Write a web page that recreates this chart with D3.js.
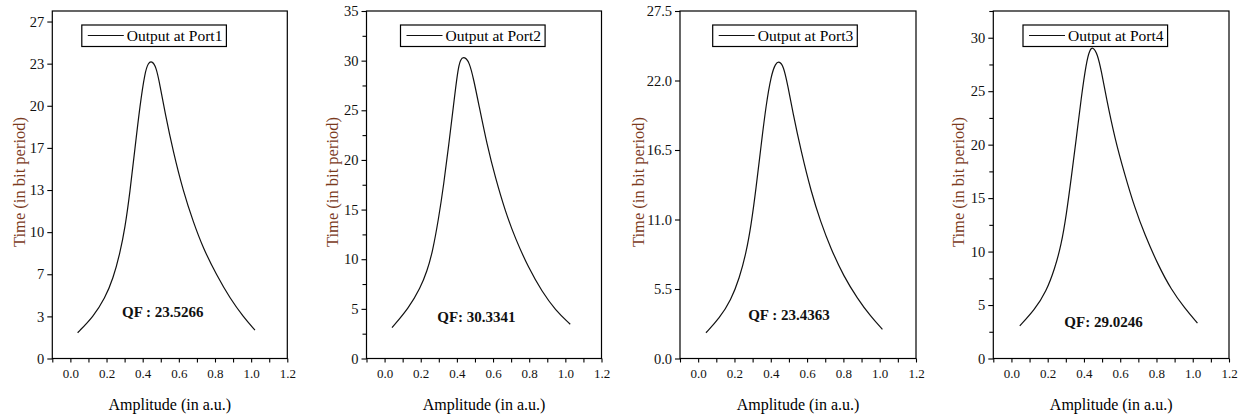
<!DOCTYPE html>
<html>
<head>
<meta charset="utf-8">
<script src="https://cdn.jsdelivr.net/npm/d3@7/dist/d3.min.js"></script>
<style>
  html, body { margin: 0; padding: 0; background: #fff; }
  svg { display: block; }
  text { font-family: "Liberation Serif", "Times New Roman", serif; }
</style>
</head>
<body>
<svg id="chart" width="1242" height="416"></svg>
<script>
// ---------------- DATA ----------------
const portNames = ["Output at Port1", "Output at Port2", "Output at Port3", "Output at Port4"];
const qfLabels = ["QF : 23.5266", "QF: 30.3341", "QF : 23.4363", "QF: 29.0246"];

const amp1  = [0.040, 0.127, 0.191, 0.237, 0.274, 0.302, 0.330, 0.357, 0.385, 0.413, 0.431, 0.450, 0.474, 0.496, 0.523, 0.569, 0.625, 0.680, 0.735, 0.809, 0.883, 0.956, 1.021];
const time1 = [2.04, 3.31, 4.76, 6.34, 8.32, 10.3, 13.2, 16.6, 20.05, 22.7, 23.4, 23.55, 23.12, 21.6, 19.5, 16.35, 13.2, 10.8, 8.71, 6.6, 4.76, 3.31, 2.25];

const amp2  = [0.041, 0.133, 0.198, 0.235, 0.265, 0.299, 0.327, 0.355, 0.382, 0.404, 0.419, 0.443, 0.469, 0.493, 0.521, 0.567, 0.613, 0.668, 0.723, 0.797, 0.871, 0.944, 1.027];
const time2 = [3.11, 5.06, 7.1, 8.8, 10.7, 14.1, 17.5, 21.5, 25.6, 28.9, 30.2, 30.4, 29.85, 28.1, 25.6, 21.5, 18.2, 14.8, 12.1, 9.1, 6.74, 4.89, 3.45];

const amp3  = [0.043, 0.117, 0.181, 0.227, 0.264, 0.292, 0.319, 0.347, 0.374, 0.402, 0.426, 0.448, 0.470, 0.494, 0.521, 0.567, 0.622, 0.675, 0.730, 0.803, 0.877, 0.951, 1.015];
const time3 = [2.04, 3.18, 4.63, 6.35, 8.33, 10.56, 13.47, 16.9, 20.06, 22.4, 23.38, 23.52, 23.15, 21.6, 19.5, 16.4, 13.2, 10.8, 8.72, 6.47, 4.76, 3.31, 2.31];

const amp4  = [0.046, 0.128, 0.192, 0.239, 0.275, 0.303, 0.330, 0.358, 0.385, 0.413, 0.432, 0.450, 0.474, 0.496, 0.523, 0.570, 0.625, 0.680, 0.735, 0.808, 0.882, 0.956, 1.026];
const time4 = [3.05, 4.55, 6.26, 8.4, 10.64, 13.45, 16.9, 20.6, 24.4, 27.7, 28.9, 29.15, 28.5, 26.9, 24.4, 20.6, 17.2, 14.1, 11.6, 8.77, 6.42, 4.7, 3.3];

const xTickValues = [0.0, 0.2, 0.4, 0.6, 0.8, 1.0, 1.2];
const xTickLabels = ["0.0", "0.2", "0.4", "0.6", "0.8", "1.0", "1.2"];
const xMinorValues = [-0.1, 0.1, 0.3, 0.5, 0.7, 0.9, 1.1];

const yMax = [27.5, 35, 27.5, 32.5];
const yTicks1 = [0, 3.333, 6.667, 10, 13.333, 16.667, 20, 23.333, 26.667];
const yLabels1 = ["0", "3", "7", "10", "13", "17", "20", "23", "27"];
const yTicks2 = [0, 5, 10, 15, 20, 25, 30, 35];
const yLabels2 = ["0", "5", "10", "15", "20", "25", "30", "35"];
const yMinor2 = [2.5, 7.5, 12.5, 17.5, 22.5, 27.5, 32.5];
const yTicks3 = [0, 5.5, 11, 16.5, 22, 27.5];
const yLabels3 = ["0.0", "5.5", "11.0", "16.5", "22.0", "27.5"];
const yTicks4 = [0, 5, 10, 15, 20, 25, 30];
const yLabels4 = ["0", "5", "10", "15", "20", "25", "30"];
const yMinor4 = [2.5, 7.5, 12.5, 17.5, 22.5, 27.5, 32.5];

const xTitle = "Amplitude (in a.u.)";
const yTitle = "Time (in bit period)";

// ---------------- LAYOUT ----------------
const panels = [
  { amp: amp1, time: time1, ymax: yMax[0], yt: yTicks1, yl: yLabels1, ym: [], left: 52.3, right: 287.3, legDx: 29.5, qfX: 0.511, qfY: 3.7, ytOff: 27 },
  { amp: amp2, time: time2, ymax: yMax[1], yt: yTicks2, yl: yLabels2, ym: yMinor2, left: 366.5, right: 601.5, legDx: 34, qfX: 0.508, qfY: 4.2, ytOff: 28.5 },
  { amp: amp3, time: time3, ymax: yMax[2], yt: yTicks3, yl: yLabels3, ym: [], left: 680, right: 916, legDx: 32.7, qfX: 0.5, qfY: 3.45, ytOff: 36 },
  { amp: amp4, time: time4, ymax: yMax[3], yt: yTicks4, yl: yLabels4, ym: yMinor4, left: 993.3, right: 1229, legDx: 29.7, qfX: 0.508, qfY: 3.4, ytOff: 29 }
];
const plotTop = 11, plotBottom = 358.5;

const svg = d3.select("#chart");

panels.forEach((p, i) => {
  const x = d3.scaleLinear().domain([-0.1, 1.2]).range([p.left, p.right]);
  const y = d3.scaleLinear().domain([0, p.ymax]).range([plotBottom, plotTop]);
  const g = svg.append("g");

  // frame
  g.append("rect")
    .attr("x", p.left).attr("y", plotTop)
    .attr("width", p.right - p.left).attr("height", plotBottom - plotTop)
    .attr("fill", "none").attr("stroke", "#000").attr("stroke-width", 1.2);

  // x axis
  const xg = g.append("g").attr("transform", `translate(0,${plotBottom})`)
    .call(d3.axisBottom(x).tickValues(xTickValues).tickFormat((d, k) => xTickLabels[k]).tickSize(4).tickPadding(6));
  g.append("g").attr("transform", `translate(0,${plotBottom})`)
    .call(d3.axisBottom(x).tickValues(xMinorValues).tickFormat("").tickSize(4));
  // y axis
  const yg = g.append("g").attr("transform", `translate(${p.left},0)`)
    .call(d3.axisLeft(y).tickValues(p.yt).tickFormat((d, k) => p.yl[k]).tickSize(5).tickPadding(3));
  if (p.ym.length) {
    g.append("g").attr("transform", `translate(${p.left},0)`)
      .call(d3.axisLeft(y).tickValues(p.ym).tickFormat("").tickSize(4));
  }
  g.selectAll(".domain").remove();
  g.selectAll(".tick line").attr("stroke", "#000").attr("stroke-width", 1.1);
  g.selectAll(".tick text").attr("fill", "#111")
    .style("font-family", '"Liberation Serif", "Times New Roman", serif');
  xg.selectAll(".tick text").style("font-size", "13px");
  yg.selectAll(".tick text").style("font-size", "14.5px");

  // curve
  const pts = p.amp.map((a, k) => [a, p.time[k]]);
  g.append("path")
    .datum(pts)
    .attr("fill", "none").attr("stroke", "#111").attr("stroke-width", 1.2)
    .attr("d", d3.line().x(d => x(d[0])).y(d => y(d[1])).curve(d3.curveBasis));

  // legend
  const lx = p.left + p.legDx, ly = 25;
  const leg = g.append("g");
  const lt = leg.append("text")
    .attr("x", lx + 45).attr("y", ly + 16)
    .style("font-size", "15.5px").attr("fill", "#000")
    .text(portNames[i]);
  const tw = lt.node().getComputedTextLength();
  leg.insert("rect", "text")
    .attr("x", lx).attr("y", ly)
    .attr("width", 45 + tw + 4).attr("height", 21.5)
    .attr("fill", "#fff").attr("stroke", "#000").attr("stroke-width", 1.2);
  leg.append("line")
    .attr("x1", lx + 6).attr("x2", lx + 42).attr("y1", ly + 10.5).attr("y2", ly + 10.5)
    .attr("stroke", "#111").attr("stroke-width", 1.2);

  // QF annotation
  g.append("text")
    .attr("x", x(p.qfX)).attr("y", y(p.qfY) + 5)
    .attr("text-anchor", "middle")
    .style("font-size", "15px").style("font-weight", "bold").attr("fill", "#111")
    .text(qfLabels[i]);

  // axis titles
  g.append("text")
    .attr("x", (p.left + p.right) / 2).attr("y", 410)
    .attr("text-anchor", "middle").style("font-size", "16px").attr("fill", "#000")
    .text(xTitle);
  g.append("text")
    .attr("transform", `translate(${p.left - p.ytOff},${182}) rotate(-90)`)
    .attr("text-anchor", "middle").style("font-size", "16.5px").attr("fill", "#7a3a1c")
    .text(yTitle);
});
</script>
</body>
</html>
